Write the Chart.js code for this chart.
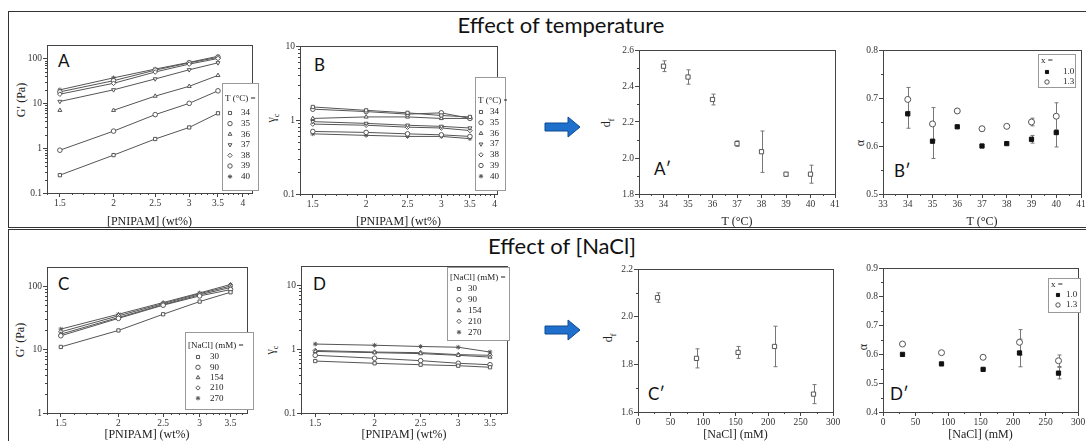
<!DOCTYPE html>
<html>
<head>
<meta charset="utf-8">
<script src="https://cdn.jsdelivr.net/npm/chart.js@4.4.1/dist/chart.umd.min.js"></script>
<style>
  body { margin: 0; width: 1086px; height: 441px; position: relative; overflow: hidden; background: #fff; font-family: 'Liberation Serif', serif; }
  canvas { position: absolute; }
  .box { position: absolute; border: 1.5px solid #333; }
  .title { position: absolute; font-family: Lato, 'Open Sans', sans-serif; font-size: 22px; line-height: 1; color: #111; transform: translateX(-50%); white-space: nowrap; }
  .tag { position: absolute; font-family: Lato, 'Open Sans', sans-serif; font-size: 17px; line-height: 1; color: #111; }
  .ytitle { position: absolute; font-size: 12px; line-height: 1; color: #222; transform: translate(-50%, -50%) rotate(-90deg); white-space: nowrap; }
  .ytitle sub { font-size: 8px; }
  svg { position: absolute; }
</style>
</head>
<body>
<div class="box" style="left:8px;top:11px;width:1090px;height:215px"></div>
<div class="box" style="left:8px;top:229px;width:1090px;height:230px"></div>
<div class="title" style="left:561px;top:14px">Effect of temperature</div>
<div class="title" style="left:562px;top:235px">Effect of [NaCl]</div>

<div class="tag" style="left:58px;top:52px">A</div>
<div class="tag" style="left:314px;top:56px">B</div>
<div class="tag" style="left:654px;top:160px">A′</div>
<div class="tag" style="left:894px;top:162px">B′</div>
<div class="tag" style="left:58px;top:275px">C</div>
<div class="tag" style="left:313px;top:275px">D</div>
<div class="tag" style="left:648px;top:385px">C′</div>
<div class="tag" style="left:890px;top:385px">D′</div>

<div class="ytitle" style="left:21px;top:100px">G′ (Pa)</div>
<div class="ytitle" style="left:273px;top:118px">γ<sub>c</sub></div>
<div class="ytitle" style="left:608px;top:123px">d<sub>f</sub></div>
<div class="ytitle" style="left:860px;top:143px">α</div>
<div class="ytitle" style="left:20px;top:340px">G′ (Pa)</div>
<div class="ytitle" style="left:272px;top:350px">γ<sub>c</sub></div>
<div class="ytitle" style="left:610px;top:338px">d<sub>f</sub></div>
<div class="ytitle" style="left:863px;top:347px">α</div>

<svg style="left:540px;top:110px" width="50" height="34"><path d="M5 13 H28 V7 L40 17 L28 27 V21 H5 Z" fill="#1f6fcc" stroke="#0f4a92" stroke-width="1"/></svg>
<svg style="left:540px;top:313px" width="50" height="34"><path d="M5 13 H28 V7 L40 17 L28 27 V21 H5 Z" fill="#1f6fcc" stroke="#0f4a92" stroke-width="1"/></svg>

<script>
// ---- data ----
const pnipam = [1.5, 2, 2.5, 3, 3.5];
const temps = ['34', '35', '36', '37', '38', '39', '40'];
const salts = ['30', '90', '154', '210', '270'];

// G' (Pa) vs PNIPAM, one row per temperature
const gTemp = [
  [0.25, 0.7, 1.6, 2.9, 6],
  [0.9, 2.4, 5.6, 10, 19],
  [7, 7, 14.5, 24, 42],
  [11, 20, 35, 56, 80],
  [16, 28, 50, 75, 100],
  [18, 32, 55, 80, 106],
  [20, 37, 58, 82, 112]
];
// gamma_c vs PNIPAM, one row per temperature
const gammaTemp = [
  [1.5, 1.35, 1.25, 1.15, 1.1],
  [1.4, 1.3, 1.2, 1.25, 1.05],
  [1.05, 1.1, 1.1, 1.05, 1.05],
  [0.95, 0.9, 0.85, 0.82, 0.78],
  [0.88, 0.85, 0.8, 0.78, 0.72],
  [0.7, 0.68, 0.65, 0.63, 0.6],
  [0.65, 0.62, 0.6, 0.6, 0.56]
];
// G' (Pa) vs PNIPAM, one row per NaCl
const gSalt = [
  [11, 20, 36, 57, 80],
  [16.5, 31, 50, 70, 88],
  [17.5, 32, 51, 73, 95],
  [19, 34, 53, 76, 100],
  [21, 36, 55, 78, 106]
];
// gamma_c vs PNIPAM, one row per NaCl
const gammaSalt = [
  [0.65, 0.6, 0.57, 0.55, 0.52],
  [0.8, 0.72, 0.66, 0.6, 0.57],
  [0.92, 0.88, 0.85, 0.8, 0.75],
  [0.95, 0.9, 0.88, 0.82, 0.8],
  [1.2, 1.15, 1.1, 1.07, 0.9]
];

const tempC = [34, 35, 36, 37, 38, 39, 40];
const dfTemp = [2.51, 2.45, 2.325, 2.08, 2.035, 1.91, 1.91];
const dfTempErr = [0.03, 0.04, 0.03, 0.015, 0.115, 0.01, 0.05];
const alphaT10 = [0.667, 0.61, 0.64, 0.60, 0.605, 0.614, 0.628];
const alphaT10Err = [0.03, 0.036, 0, 0, 0, 0.008, 0.03];
const alphaT13 = [0.697, 0.646, 0.673, 0.636, 0.641, 0.65, 0.662];
const alphaT13Err = [0.025, 0.034, 0, 0, 0, 0.008, 0.028];

const naclMM = [30, 90, 154, 210, 270];
const dfSalt = [2.08, 1.825, 1.85, 1.875, 1.675];
const dfSaltErr = [0.02, 0.04, 0.025, 0.085, 0.04];
const alphaN10 = [0.60, 0.567, 0.548, 0.605, 0.535];
const alphaN10Err = [0, 0, 0, 0.048, 0.02];
const alphaN13 = [0.636, 0.606, 0.59, 0.642, 0.578];
const alphaN13Err = [0, 0, 0, 0.044, 0.02];

// tick labels
const pnipamTicks = [1.5, 2, 2.5, 3, 3.5, 4];
const tempTicks = [33, 34, 35, 36, 37, 38, 39, 40, 41];
const naclTicks = [0, 50, 100, 150, 200, 250, 300];

// ---- styling ----
const ink = '#555';
const tickFont = { family: 'Liberation Serif', size: 9.5 };
const titleFont = { family: 'Liberation Serif', size: 12, lineHeight: 1 };
const tempMarks = [
  { pointStyle: 'rect' }, { pointStyle: 'circle' }, { pointStyle: 'triangle' },
  { pointStyle: 'triangle', pointRotation: 180 }, { pointStyle: 'rectRot' },
  { pointStyle: 'circle' }, { pointStyle: 'star' }
];
const saltMarks = [
  { pointStyle: 'rect' }, { pointStyle: 'circle' }, { pointStyle: 'triangle' },
  { pointStyle: 'rectRot' }, { pointStyle: 'star' }
];

// evenly spaced tick positions (for minor marks only)
function range(a, b, step) {
  const out = [];
  for (let v = a; v <= b + 1e-9; v += step) out.push(Math.round(v * 1000) / 1000);
  return out;
}
function logMinors(lo, hi) {
  const out = [];
  for (let d = lo; d < hi; d *= 10) for (let k = 2; k <= 9; k++) out.push(d * k);
  return out;
}

// plot frame around the chart area
const framePlugin = {
  id: 'frame',
  beforeDatasetsDraw(chart) {
    const { ctx, chartArea: a } = chart;
    ctx.save();
    ctx.strokeStyle = '#444';
    ctx.lineWidth = 1;
    ctx.strokeRect(Math.round(a.left) + 0.5, Math.round(a.top) + 0.5, Math.round(a.right - a.left), Math.round(a.bottom - a.top));
    ctx.restore();
  }
};

// short unlabelled ticks
const minorPlugin = {
  id: 'minor',
  afterDraw(chart, args, opts) {
    const { ctx, chartArea: a, scales } = chart;
    ctx.save();
    ctx.strokeStyle = '#444';
    ctx.lineWidth = 1;
    ctx.beginPath();
    (opts.x || []).forEach(v => {
      const px = Math.round(scales.x.getPixelForValue(v)) + 0.5;
      if (px < a.left || px > a.right) return;
      ctx.moveTo(px, a.bottom); ctx.lineTo(px, a.bottom + 2);
    });
    (opts.y || []).forEach(v => {
      const py = Math.round(scales.y.getPixelForValue(v)) + 0.5;
      if (py < a.top || py > a.bottom) return;
      ctx.moveTo(a.left, py); ctx.lineTo(a.left - 2, py);
    });
    ctx.stroke();
    ctx.restore();
  }
};

// vertical error bars from dataset.errors
const errorPlugin = {
  id: 'errors',
  beforeDatasetsDraw(chart) {
    const { ctx, scales: { y } } = chart;
    ctx.save();
    ctx.strokeStyle = '#777';
    ctx.lineWidth = 1;
    chart.data.datasets.forEach((ds, di) => {
      if (!ds.errors) return;
      const meta = chart.getDatasetMeta(di);
      ds.data.forEach((pt, i) => {
        const e = ds.errors[i];
        if (!e) return;
        const px = Math.round(meta.data[i].x) + 0.5;
        const y1 = y.getPixelForValue(pt.y - e), y2 = y.getPixelForValue(pt.y + e);
        ctx.beginPath();
        ctx.moveTo(px, y1); ctx.lineTo(px, y2);
        ctx.moveTo(px - 2, y1); ctx.lineTo(px + 2, y1);
        ctx.moveTo(px - 2, y2); ctx.lineTo(px + 2, y2);
        ctx.stroke();
      });
    });
    ctx.restore();
  }
};

// boxed legend drawn over the plot
const legendPlugin = {
  id: 'boxLegend',
  afterDraw(chart, args, o) {
    if (!o.rect) return;
    const ctx = chart.ctx;
    const [x, y, w, h] = o.rect;
    ctx.save();
    ctx.fillStyle = '#fff';
    ctx.fillRect(x, y, w, h);
    ctx.strokeStyle = '#999';
    ctx.lineWidth = 1;
    ctx.strokeRect(Math.round(x) + 0.5, Math.round(y) + 0.5, w, h);
    ctx.font = '9px "Liberation Serif"';
    ctx.textBaseline = 'middle';
    ctx.fillStyle = '#222';
    ctx.fillText(o.title, x + 3, o.titleY);
    chart.data.datasets.forEach((ds, i) => {
      const ry = o.firstY + i * o.step;
      ctx.strokeStyle = ds.borderColor;
      ctx.fillStyle = ds.pointBackgroundColor;
      Chart.helpers.drawPoint(ctx, {
        pointStyle: ds.pointStyle, rotation: ds.pointRotation || 0,
        radius: 2.2, borderWidth: 1
      }, x + o.symX, ry);
      ctx.fillStyle = '#222';
      ctx.fillText(ds.label, x + o.textX, ry);
    });
    ctx.restore();
  }
};

Chart.register(framePlugin, minorPlugin, errorPlugin, legendPlugin);

function axis(opts) {
  const ticks = opts.ticks;
  return {
    type: opts.type || 'linear',
    min: opts.min, max: opts.max,
    border: { display: false },
    grid: { drawOnChartArea: false, drawTicks: true, tickLength: 4, color: '#444' },
    afterBuildTicks: s => { s.ticks = ticks.map(v => ({ value: v })); },
    ticks: {
      font: tickFont, color: '#333', padding: 1, maxRotation: 0, autoSkip: false,
      callback: v => opts.digits ? v.toFixed(opts.digits) : String(v)
    },
    title: opts.title
      ? { display: true, text: opts.title, font: titleFont, color: '#222', padding: { top: opts.titlePad, bottom: 0 } }
      : { display: false }
  };
}

// box = canvas rect on page, area = plot rect on page (left, top, right, bottom)
function panel(box, area, config, legend) {
  const cv = document.createElement('canvas');
  cv.width = box[2];
  cv.height = box[3];
  cv.style.left = box[0] + 'px';
  cv.style.top = box[1] + 'px';
  document.body.appendChild(cv);
  const o = config.options;
  o.responsive = false;
  o.animation = false;
  o.devicePixelRatio = 1;
  o.layout = { padding: { left: 0, bottom: 0, top: area[1] - box[1], right: box[0] + box[2] - area[2] } };
  o.scales.x.afterFit = s => {
    s.height = box[1] + box[3] - area[3];
    s.paddingLeft = s.paddingRight = s.paddingTop = s.paddingBottom = 0;
  };
  o.scales.y.afterFit = s => {
    s.width = area[0] - box[0];
    s.paddingLeft = s.paddingRight = s.paddingTop = s.paddingBottom = 0;
  };
  o.plugins = o.plugins || {};
  o.plugins.legend = { display: false };
  o.plugins.tooltip = { enabled: false };
  if (legend) {
    o.plugins.boxLegend = {
      rect: [legend.rect[0] - box[0], legend.rect[1] - box[1], legend.rect[2], legend.rect[3]],
      title: legend.title,
      titleY: legend.titleY - box[1],
      firstY: legend.firstY - box[1],
      step: legend.step,
      symX: legend.symX,
      textX: legend.textX
    };
  }
  return new Chart(cv, config);
}

function curveSets(rows, labels, marks, hideFirst) {
  return rows.map((row, i) => Object.assign({
    label: labels[i],
    data: pnipam.map((x, j) => ({ x: x, y: row[j] })),
    showLine: true,
    borderColor: ink,
    borderWidth: 1,
    pointRadius: 2.3,
    pointBorderWidth: 1,
    pointBackgroundColor: '#fff',
    segment: hideFirst === i ? { borderColor: c => c.p0DataIndex === 0 ? 'rgba(0,0,0,0)' : undefined } : undefined
  }, marks[i]));
}

function pointSet(label, xs, ys, errs, style, fill) {
  return {
    label: label,
    data: xs.map((x, i) => ({ x: x, y: ys[i] })),
    errors: errs,
    showLine: false,
    pointStyle: style,
    pointRadius: 3,
    pointBorderWidth: 1,
    borderColor: fill ? '#111' : ink,
    pointBackgroundColor: fill ? '#111' : '#fff'
  };
}

const pnipamMinor = range(1.4, 4.2, 0.1).filter(v => !pnipamTicks.includes(v));

// A: G' vs PNIPAM by temperature
panel([10, 40, 250, 188], [47, 45, 252, 193], {
  type: 'scatter',
  data: { datasets: curveSets(gTemp, temps, tempMarks, 2) },
  options: {
    scales: {
      x: axis({ type: 'logarithmic', min: 1.4, max: 4.2, ticks: pnipamTicks, title: '[PNIPAM] (wt%)', titlePad: 4 }),
      y: axis({ type: 'logarithmic', min: 0.1, max: 200, ticks: [0.1, 1, 10, 100] })
    },
    plugins: { minor: { x: pnipamMinor, y: logMinors(0.1, 100) } }
  }
}, { rect: [222, 83, 36, 107], title: 'T (°C) =', titleY: 99, firstY: 113, step: 10.6, symX: 8, textX: 19 });

// B: gamma_c vs PNIPAM by temperature
panel([262, 40, 245, 188], [300, 46, 497, 194], {
  type: 'scatter',
  data: { datasets: curveSets(gammaTemp, temps, tempMarks) },
  options: {
    scales: {
      x: axis({ type: 'logarithmic', min: 1.4, max: 4.05, ticks: pnipamTicks, title: '[PNIPAM] (wt%)', titlePad: 1 }),
      y: axis({ type: 'logarithmic', min: 0.1, max: 10, ticks: [0.1, 1, 10] })
    },
    plugins: { minor: { x: pnipamMinor, y: logMinors(0.1, 10) } }
  }
}, { rect: [475, 77, 30, 113], title: 'T (°C) =', titleY: 101, firstY: 112, step: 10.7, symX: 6, textX: 15 });

// A': fractal dimension vs temperature
panel([600, 40, 245, 188], [639, 50, 835, 194], {
  type: 'scatter',
  data: { datasets: [pointSet('d_f', tempC, dfTemp, dfTempErr, 'rect', false)] },
  options: {
    scales: {
      x: axis({ min: 33, max: 41, ticks: tempTicks, title: 'T (°C)', titlePad: -1 }),
      y: axis({ min: 1.8, max: 2.6, ticks: [1.8, 2.0, 2.2, 2.4, 2.6], digits: 1 })
    },
    plugins: { minor: { x: range(33.5, 40.5, 1), y: [1.9, 2.1, 2.3, 2.5] } }
  }
});

// B': alpha vs temperature
panel([848, 40, 238, 188], [883, 50, 1083, 194], {
  type: 'scatter',
  data: {
    datasets: [
      pointSet('1.0', tempC, alphaT10, alphaT10Err, 'rect', true),
      pointSet('1.3', tempC, alphaT13, alphaT13Err, 'circle', false)
    ]
  },
  options: {
    scales: {
      x: axis({ min: 33, max: 41, ticks: tempTicks, title: 'T (°C)', titlePad: -1 }),
      y: axis({ min: 0.5, max: 0.8, ticks: [0.5, 0.6, 0.7, 0.8] })
    },
    plugins: { minor: { x: range(33.5, 40.5, 1), y: [0.55, 0.65, 0.75] } }
  }
}, { rect: [1038, 54, 37, 33], title: 'x =', titleY: 61, firstY: 72, step: 10, symX: 9, textX: 25 });

// C: G' vs PNIPAM by NaCl
panel([10, 258, 250, 183], [47, 267, 247, 413], {
  type: 'scatter',
  data: { datasets: curveSets(gSalt, salts, saltMarks) },
  options: {
    scales: {
      x: axis({ type: 'logarithmic', min: 1.4, max: 3.8, ticks: pnipamTicks.slice(0, 5), title: '[PNIPAM] (wt%)', titlePad: -2 }),
      y: axis({ type: 'logarithmic', min: 1, max: 200, ticks: [1, 10, 100] })
    },
    plugins: { minor: { x: pnipamMinor, y: logMinors(1, 100) } }
  }
}, { rect: [185, 332, 68, 77], title: '[NaCl] (mM) =', titleY: 346, firstY: 357, step: 10.3, symX: 13, textX: 25 });

// D: gamma_c vs PNIPAM by NaCl
panel([262, 258, 250, 183], [301, 266, 507, 413], {
  type: 'scatter',
  data: { datasets: curveSets(gammaSalt, salts, saltMarks) },
  options: {
    scales: {
      x: axis({ type: 'logarithmic', min: 1.4, max: 3.8, ticks: pnipamTicks.slice(0, 5), title: '[PNIPAM] (wt%)', titlePad: -2 }),
      y: axis({ type: 'logarithmic', min: 0.1, max: 20, ticks: [0.1, 1, 10] })
    },
    plugins: { minor: { x: pnipamMinor, y: logMinors(0.1, 10) } }
  }
}, { rect: [447, 267, 62, 73], title: '[NaCl] (mM) =', titleY: 278, firstY: 289, step: 10.8, symX: 12, textX: 21 });

// C': fractal dimension vs NaCl
panel([600, 258, 245, 183], [638, 269, 833, 412], {
  type: 'scatter',
  data: { datasets: [pointSet('d_f', naclMM, dfSalt, dfSaltErr, 'rect', false)] },
  options: {
    scales: {
      x: axis({ min: 0, max: 300, ticks: naclTicks, title: '[NaCl] (mM)', titlePad: -2 }),
      y: axis({ min: 1.6, max: 2.2, ticks: [1.6, 1.8, 2.0, 2.2], digits: 1 })
    },
    plugins: { minor: { x: [25, 75, 125, 175, 225, 275], y: [1.7, 1.9, 2.1] } }
  }
});

// D': alpha vs NaCl
panel([848, 258, 238, 183], [883, 268, 1078, 412], {
  type: 'scatter',
  data: {
    datasets: [
      pointSet('1.0', naclMM, alphaN10, alphaN10Err, 'rect', true),
      pointSet('1.3', naclMM, alphaN13, alphaN13Err, 'circle', false)
    ]
  },
  options: {
    scales: {
      x: axis({ min: 0, max: 300, ticks: naclTicks, title: '[NaCl] (mM)', titlePad: -2 }),
      y: axis({ min: 0.4, max: 0.9, ticks: [0.4, 0.5, 0.6, 0.7, 0.8, 0.9] })
    },
    plugins: { minor: { x: [25, 75, 125, 175, 225, 275], y: [0.45, 0.55, 0.65, 0.75, 0.85] } }
  }
}, { rect: [1048, 278, 32, 34], title: 'x =', titleY: 285, firstY: 295, step: 10, symX: 10, textX: 18 });
</script>
</body>
</html>
